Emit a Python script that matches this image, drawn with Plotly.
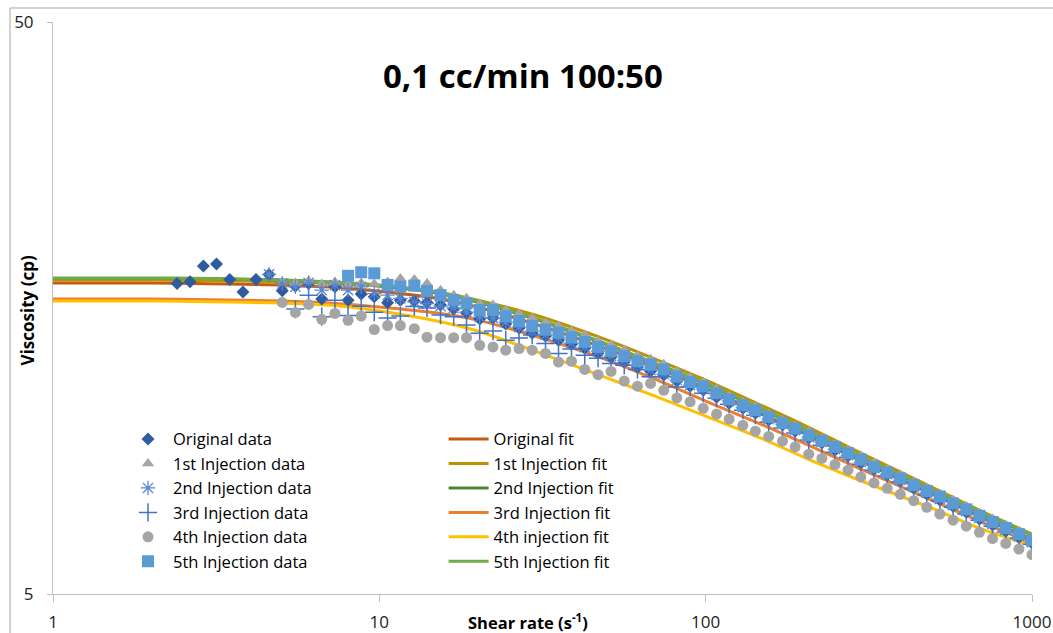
import plotly.graph_objects as go

# Shear rates of the measurement grid (1/s)
SHEAR_RATE = [2.40, 2.63, 2.89, 3.17, 3.48, 3.82, 4.19, 4.59, 5.04, 5.53,
              6.07, 6.66, 7.31, 8.02, 8.80, 9.65, 10.6, 11.6, 12.8, 14.0,
              15.4, 16.9, 18.5, 20.3, 22.3, 24.4, 26.8, 29.4, 32.3, 35.4,
              38.8, 42.6, 46.8, 51.3, 56.3, 61.8, 67.8, 74.4, 81.6, 89.6,
              98.3, 108, 118, 130, 142, 156, 172, 188, 207, 227,
              249, 273, 299, 328, 360, 395, 434, 476, 522, 573,
              629, 690, 757, 831, 912, 1000]

# Measured viscosities (cp); each series ends at the last shear rate
original_data = [17.45, 17.57, 18.72, 18.87, 17.74, 16.87, 17.74, 18.10, 16.94, 17.27,
                 17.45, 16.39, 17.22, 16.32, 16.72, 16.54, 16.15, 16.32, 16.26, 16.16,
                 16.00, 15.74, 15.49, 15.12, 15.18, 14.82, 14.59, 14.29, 14.12, 13.89,
                 13.67, 13.45, 13.18, 12.97, 12.72, 12.46, 12.26, 12.07, 11.78, 11.54,
                 11.36, 11.04, 10.78, 10.56, 10.35, 10.07, 9.87, 9.63, 9.37, 9.18,
                 8.92, 8.71, 8.47, 8.26, 8.07, 7.88, 7.66, 7.48, 7.30, 7.12,
                 6.95, 6.76, 6.60, 6.44, 6.28, 6.14]
inj1_data = [17.55, 17.48, 17.62, 17.41, 17.55, 17.34, 17.48, 17.41, 17.55, 17.81,
             17.74, 17.45, 16.99, 16.65, 16.45, 16.06, 16.00, 15.68, 15.43, 15.18,
             14.88, 14.70, 14.41, 14.18, 13.84, 13.62, 13.35, 13.03, 12.87, 12.61,
             12.26, 11.97, 11.73, 11.41, 11.09, 10.82, 10.61, 10.31, 10.07, 9.83,
             9.60, 9.37, 9.14, 8.92, 8.71, 8.47, 8.26, 8.07, 7.85, 7.66,
             7.48, 7.30, 7.12, 6.92, 6.76, 6.60, 6.44, 6.28]
inj2_data = [18.10, 17.45, 17.22, 17.50, 16.99, 17.34, 16.99, 17.22, 16.76, 16.65,
             16.43, 16.21, 16.10, 15.93, 15.81, 15.55, 15.24, 15.18, 14.94, 14.64,
             14.41, 14.18, 14.01, 13.72, 13.51, 13.29, 13.03, 12.82, 12.56, 12.31,
             12.12, 11.83, 11.59, 11.41, 11.13, 10.87, 10.61, 10.39, 10.11, 9.91,
             9.67, 9.40, 9.22, 8.96, 8.74, 8.50, 8.30, 8.10, 7.91, 7.69,
             7.51, 7.33, 7.15, 6.98, 6.79, 6.63, 6.47, 6.31, 6.16]
inj3_data = [15.74, 16.65, 15.27, 16.32, 15.34, 15.93, 15.55, 15.18, 15.31, 15.90,
             15.81, 15.37, 15.27, 14.76, 14.29, 14.41, 13.89, 14.01, 14.18, 13.71,
             13.17, 13.40, 13.07, 12.92, 12.65, 12.56, 12.35, 11.99, 11.99, 11.51,
             11.50, 11.22, 11.00, 10.73, 10.48, 10.27, 9.99, 9.75, 9.56, 9.29,
             9.10, 8.85, 8.67, 8.43, 8.23, 8.04, 7.85, 7.63, 7.45, 7.27,
             7.09, 6.90, 6.73, 6.57, 6.42, 6.26, 6.11]
inj4_data = [16.17, 15.53, 16.04, 15.11, 15.47, 15.05, 15.31, 14.50, 14.73, 14.73,
             14.55, 14.06, 14.03, 14.03, 14.03, 13.61, 13.52, 13.34, 13.43, 13.34,
             13.17, 12.72, 12.76, 12.35, 12.09, 12.25, 11.78, 11.54, 11.67, 11.35,
             11.01, 10.84, 10.56, 10.32, 10.11, 9.86, 9.63, 9.43, 9.25, 9.04,
             8.78, 8.63, 8.42, 8.23, 8.01, 7.82, 7.65, 7.47, 7.28, 7.09,
             6.90, 6.73, 6.57, 6.41, 6.25, 6.13, 5.99, 5.86]
inj5_data = [18.00, 18.26, 18.18, 17.35, 17.23, 17.30, 16.93, 16.65, 16.32, 16.10,
             15.68, 15.68, 15.30, 15.01, 14.71, 14.50, 14.32, 14.06, 13.80, 13.52,
             13.29, 13.03, 12.76, 12.59, 12.35, 12.00, 11.74, 11.54, 11.22, 10.94,
             10.69, 10.48, 10.20, 9.95, 9.73, 9.47, 9.26, 9.04, 8.81, 8.59,
             8.34, 8.15, 7.96, 7.75, 7.57, 7.40, 7.20, 7.03, 6.85, 6.68,
             6.52, 6.36, 6.21]

# Fitted model curves (cp) sampled at these shear rates
FIT_RATE = [1, 2, 3, 5, 7, 10, 15, 20, 30, 50, 70, 100, 150, 200, 300, 500, 700, 1000]
original_fit = [17.48, 17.48, 17.44, 17.34, 17.20, 16.92, 16.45, 15.87, 14.82, 13.40,
                12.46, 11.45, 10.31, 9.56, 8.53, 7.45, 6.82, 6.24]
inj1_fit = [17.69, 17.69, 17.65, 17.58, 17.48, 17.27, 16.86, 16.32, 15.37, 13.89,
            12.87, 11.83, 10.65, 9.87, 8.81, 7.66, 6.98, 6.36]
inj2_fit = [17.83, 17.83, 17.80, 17.69, 17.55, 17.27, 16.79, 16.19, 15.12, 13.62,
            12.61, 11.64, 10.48, 9.71, 8.67, 7.57, 6.92, 6.34]
inj3_fit = [16.39, 16.39, 16.35, 16.26, 16.13, 15.87, 15.49, 15.06, 14.12, 12.82,
            11.87, 10.87, 9.87, 9.18, 8.26, 7.27, 6.68, 6.14]
inj4_fit = [16.26, 16.26, 16.22, 16.13, 16.00, 15.62, 15.00, 14.41, 13.29, 11.92,
            11.09, 10.23, 9.33, 8.67, 7.88, 7.04, 6.50, 6.07]
inj5_fit = [17.83, 17.83, 17.80, 17.69, 17.55, 17.34, 16.86, 16.26, 15.18, 13.67,
            12.66, 11.69, 10.52, 9.75, 8.71, 7.60, 6.95, 6.36]

X_TICKS = [1, 10, 100, 1000]
Y_TICKS = [5, 50]

FONT = "Open Sans"

fig = go.Figure()

fits = [
    ("Original fit", original_fit, "#c55a11"),
    ("1st Injection fit", inj1_fit, "#bf9000"),
    ("2nd Injection fit", inj2_fit, "#548235"),
    ("3rd Injection fit", inj3_fit, "#ed7d31"),
    ("4th injection fit", inj4_fit, "#ffc000"),
    ("5th Injection fit", inj5_fit, "#70ad47"),
]
for name, vals, color in fits:
    fig.add_trace(go.Scatter(
        x=FIT_RATE, y=vals, name=name, mode="lines",
        line=dict(color=color, width=3, shape="spline", smoothing=0.8),
        legend="legend2", legendgroup=name,
    ))

data = [
    ("Original data", original_data, dict(symbol="diamond", size=10, color="#2f5c9f")),
    ("1st Injection data", inj1_data, dict(symbol="triangle-up", size=11, color="#a5a5a5")),
    ("2nd Injection data", inj2_data, dict(symbol="asterisk-open", size=12, color="#5b87cf",
                                           line=dict(width=1.3, color="#5b87cf"))),
    ("3rd Injection data", inj3_data, dict(symbol="cross-thin-open", size=13, color="#4472c4",
                                           line=dict(width=1.5, color="#4472c4"))),
    ("4th Injection data", inj4_data, dict(symbol="circle", size=11, color="#a5a5a5")),
    ("5th Injection data", inj5_data, dict(symbol="square", size=12, color="#5b9bd5")),
]
for name, vals, marker in data:
    fig.add_trace(go.Scatter(
        x=SHEAR_RATE[-len(vals):], y=vals, name=name, mode="markers",
        marker=marker, legend="legend", legendgroup=name,
    ))

legend_common = dict(
    font=dict(family=FONT, size=16.5, color="#000000"),
    bgcolor="rgba(0,0,0,0)", borderwidth=0,
    itemwidth=40, tracegroupgap=0,
    xanchor="left", yanchor="top",
)

fig.update_layout(
    width=1053, height=633,
    margin=dict(l=53, r=21, t=22, b=39),
    paper_bgcolor="white", plot_bgcolor="white",
    font=dict(family=FONT, color="#000000"),
    showlegend=True,
    legend=dict(x=0.0715, y=0.301, **legend_common),
    legend2=dict(x=0.399, y=0.301, **legend_common),
    xaxis=dict(
        type="log", range=[0, 3], tickvals=X_TICKS, ticktext=[str(v) for v in X_TICKS],
        automargin=False,
        showgrid=False, showline=True, linecolor="#bfbfbf", linewidth=1,
        ticks="outside", ticklen=7, tickcolor="#bfbfbf",
        tickfont=dict(family=FONT, size=17, color="#222222"),
        ticklabelstandoff=6,
    ),
    yaxis=dict(
        type="log", range=[0.69897, 1.69897], tickvals=Y_TICKS, ticktext=[str(v) for v in Y_TICKS],
        automargin=False,
        showgrid=True, gridcolor="#a6a6a6", gridwidth=1,
        showline=True, linecolor="#bfbfbf", linewidth=1,
        ticks="outside", ticklen=5, tickcolor="#bfbfbf",
        tickfont=dict(family=FONT, size=17, color="#222222"),
        ticklabelstandoff=10,
    ),
    annotations=[
        dict(text="<b>0,1 cc/min 100:50</b>", xref="paper", yref="paper",
             x=0.48, y=0.907, xanchor="center", yanchor="middle", showarrow=False,
             font=dict(family=FONT, size=33, color="#000000")),
        dict(text="<b>Viscosity (cp)</b>", xref="paper", yref="paper",
             x=-0.026, y=0.495, xanchor="center", yanchor="middle", showarrow=False,
             textangle=-90, font=dict(family=FONT, size=17, color="#000000")),
        dict(text="<b>Shear rate (s<sup>-1</sup>)</b>", xref="paper", yref="paper",
             x=0.485, y=-0.049, xanchor="center", yanchor="middle", showarrow=False,
             font=dict(family=FONT, size=16.5, color="#000000")),
    ],
    shapes=[
        dict(type="rect", xref="paper", yref="paper", x0=-0.0439, x1=1.06, y0=-0.12, y1=1.0245,
             line=dict(color="#a6a6a6", width=1), fillcolor="rgba(0,0,0,0)", layer="below"),
    ],
)

fig.write_html("out.html")
